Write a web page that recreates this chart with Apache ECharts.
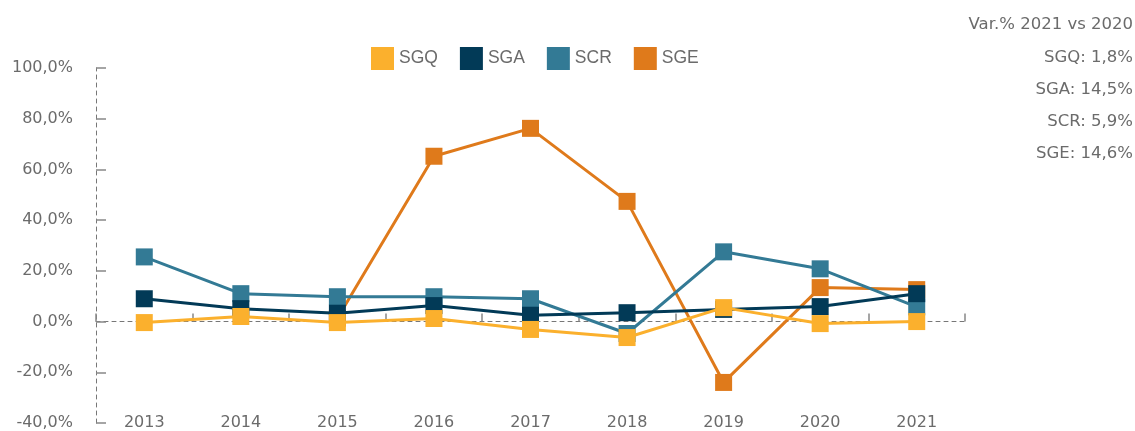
<!DOCTYPE html>
<html>
<head>
<meta charset="utf-8">
<script src="https://cdn.jsdelivr.net/npm/echarts@6/dist/echarts.min.js"></script>
<style>
  html, body { margin: 0; padding: 0; background: #fff; }
  #chart { width: 1135px; height: 431px; }
</style>
</head>
<body>
<div id="chart"></div>
<script>
// categories
const years = ['2013', '2014', '2015', '2016', '2017', '2018', '2019', '2020', '2021']

// variazione % annua per segmento
const sgq = [-0.4, 2.0, -0.4, 1.2, -3.1, -6.3, 5.5, -0.8, 0.0]
const sga = [9.0, 5.1, 3.3, 6.3, 2.5, 3.5, 4.8, 5.9, 11.0]
const scr = [25.5, 11.0, 9.8, 9.8, 9.0, -4.7, 27.5, 20.8, 5.8]
const sge = [null, null, 1.3, 65.2, 76.2, 47.4, -24.0, 13.4, 12.6]

// y axis range
const yMin = -40
const yMax = 100
const yStep = 20

// note box on the right
const noteLines = ['Var.% 2021 vs 2020', 'SGQ: 1,8%', 'SGA: 14,5%', 'SCR: 5,9%', 'SGE: 14,6%']

const cols = {
  SGQ: '#FBB02D',
  SGA: '#023A57',
  SCR: '#337A95',
  SGE: '#DF7A1B'
}
const grey = '#6b6b6b'
const axisGrey = '#777'

const chart = echarts.init(document.getElementById('chart'))

function makeSeries(name, data, z) {
  return {
    name: name,
    type: 'line',
    data: data,
    z: z,
    symbol: 'rect',
    symbolSize: 17,
    showSymbol: true,
    connectNulls: false,
    lineStyle: { width: 3, color: cols[name] },
    itemStyle: { color: cols[name] },
    emphasis: { disabled: true }
  }
}

const noteY = [25, 58, 90, 122, 154]
const graphic = noteLines.map((t, i) => ({
  type: 'text',
  right: 2,
  top: noteY[i] - 9,
  style: {
    text: t,
    fill: grey,
    font: '16.5px "DejaVu Sans"',
    textAlign: 'right'
  }
}))

const option = {
  animation: false,
  grid: {
    left: 96,
    right: 170,
    top: 68,
    bottom: 8,
    containLabel: false
  },
  legend: {
    left: 371,
    top: 47,
    padding: 0,
    icon: 'rect',
    itemWidth: 23,
    itemHeight: 23,
    itemGap: 22,
    selectedMode: false,
    textStyle: {
      color: grey,
      fontSize: 17.5,
      fontFamily: 'Liberation Sans'
    },
    data: ['SGQ', 'SGA', 'SCR', 'SGE']
  },
  graphic: graphic,
  xAxis: [
    {
      // zero line with inner ticks
      type: 'category',
      position: 'bottom',
      data: years,
      boundaryGap: true,
      axisLine: {
        show: true,
        onZero: true,
        lineStyle: { color: axisGrey, type: [4, 4], width: 1 }
      },
      axisTick: {
        show: true,
        inside: true,
        length: 8,
        lineStyle: { color: '#888', width: 1.5 }
      },
      axisLabel: { show: false },
      splitLine: { show: false }
    },
    {
      // labels at the bottom
      type: 'category',
      position: 'bottom',
      data: years,
      boundaryGap: true,
      axisLine: { show: false, onZero: false },
      axisTick: { show: false },
      axisLabel: {
        show: true,
        margin: 0,
        verticalAlign: 'middle',
        color: grey,
        fontSize: 16,
        fontFamily: 'DejaVu Sans'
      },
      splitLine: { show: false }
    }
  ],
  yAxis: {
    type: 'value',
    min: yMin,
    max: yMax,
    interval: yStep,
    axisLine: {
      show: true,
      onZero: false,
      lineStyle: { color: axisGrey, type: [4, 4], width: 1 }
    },
    axisTick: {
      show: true,
      inside: true,
      length: 10,
      lineStyle: { color: '#888', width: 1.5 }
    },
    axisLabel: {
      margin: 23,
      color: grey,
      fontSize: 16,
      fontFamily: 'DejaVu Sans',
      formatter: v => v.toFixed(1).replace('.', ',') + '%'
    },
    splitLine: { show: false }
  },
  series: [
    makeSeries('SGQ', sgq, 6),
    makeSeries('SGA', sga, 5),
    makeSeries('SCR', scr, 4),
    makeSeries('SGE', sge, 3)
  ]
}

chart.setOption(option)
</script>
</body>
</html>
